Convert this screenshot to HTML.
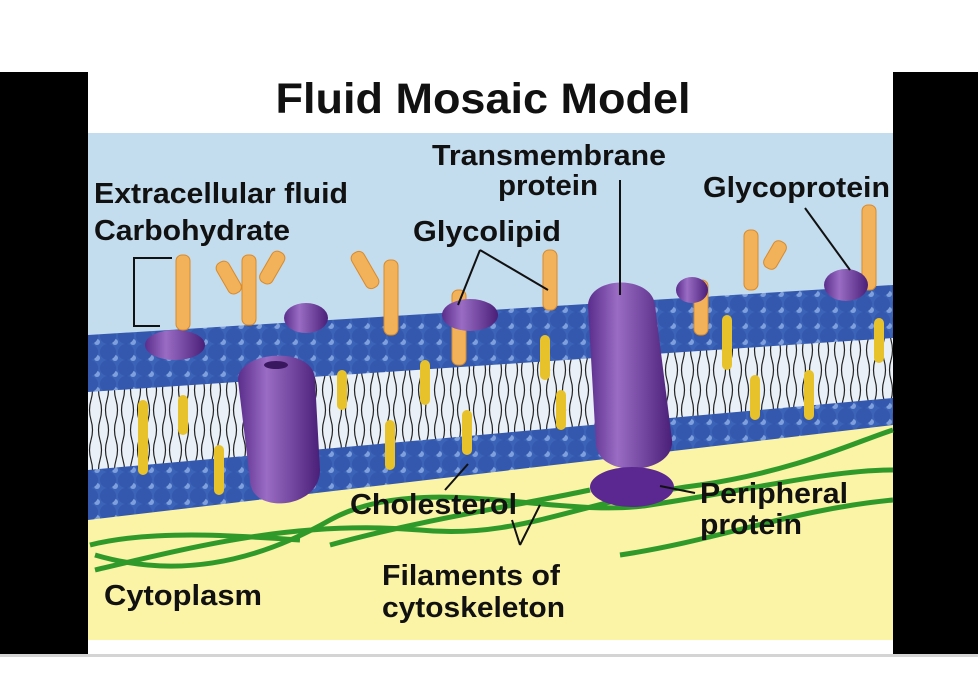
<!DOCTYPE html>
<html><head><style>
html,body{margin:0;padding:0;background:#fff;}
svg{display:block;}
text{font-family:"Liberation Sans",Arial,sans-serif;font-weight:bold;fill:#111;}
</style></head><body>
<svg width="978" height="684" viewBox="0 0 978 684" xmlns="http://www.w3.org/2000/svg">
<defs>
<pattern id="heads" width="18" height="16" patternUnits="userSpaceOnUse">
<rect width="18" height="16" fill="#1e3a8a"/>
<circle cx="9" cy="8" r="8" fill="#3b63b8"/>
<circle cx="7" cy="6" r="3" fill="#7fa0dc"/>
<circle cx="0" cy="0" r="8" fill="#3358ae"/><circle cx="18" cy="0" r="8" fill="#3358ae"/>
<circle cx="0" cy="16" r="8" fill="#3358ae"/><circle cx="18" cy="16" r="8" fill="#3358ae"/>
</pattern>
<pattern id="tails" width="16" height="40" patternUnits="userSpaceOnUse">
<rect width="16" height="40" fill="#e9f0f8"/>
<path d="M4 0 q3 10 0 20 q-3 10 0 20" stroke="#222" stroke-width="1.2" fill="none"/>
<path d="M11 0 q-3 10 0 20 q3 10 0 20" stroke="#222" stroke-width="1.2" fill="none"/>
</pattern>
<linearGradient id="purp" x1="0" x2="1">
<stop offset="0" stop-color="#5a2d8c"/><stop offset="0.35" stop-color="#9a6cc4"/><stop offset="1" stop-color="#4a1f78"/>
</linearGradient>
</defs>
<rect width="978" height="684" fill="#fff"/>
<rect x="0" y="72" width="88" height="582" fill="#000"/>
<rect x="893" y="72" width="85" height="582" fill="#000"/>
<rect x="0" y="654" width="978" height="3" fill="#d4d4d4"/>
<rect x="88" y="72" width="805" height="582" fill="#fff"/>
<rect x="88" y="133" width="805" height="507" fill="#c3dcee"/>
<polygon points="88,505 893,420 893,640 88,640" fill="#fbf3a6"/>
<polygon points="88,335 893,285 893,425 88,520" fill="url(#heads)"/>
<polygon points="88,392 893,338 893,398 88,470" fill="url(#tails)"/>
<g fill="#e8c22a">
<rect x="138" y="400" width="10" height="75" rx="5"/><rect x="178" y="395" width="10" height="40" rx="5"/>
<rect x="214" y="445" width="10" height="50" rx="5"/><rect x="337" y="370" width="10" height="40" rx="5"/>
<rect x="385" y="420" width="10" height="50" rx="5"/><rect x="420" y="360" width="10" height="45" rx="5"/>
<rect x="462" y="410" width="10" height="45" rx="5"/><rect x="540" y="335" width="10" height="45" rx="5"/>
<rect x="556" y="390" width="10" height="40" rx="5"/><rect x="722" y="315" width="10" height="55" rx="5"/>
<rect x="750" y="375" width="10" height="45" rx="5"/><rect x="804" y="370" width="10" height="50" rx="5"/>
<rect x="874" y="318" width="10" height="45" rx="5"/>
</g>
<g stroke="#2f9a2a" stroke-width="5" fill="none">
<path d="M95 570 C200 545 300 520 420 530 C520 540 580 500 700 485 C800 470 860 440 893 430"/>
<path d="M95 555 C180 580 260 560 330 520 C420 470 560 520 650 505 C750 490 830 470 893 470"/>
<path d="M330 545 C420 520 520 505 590 490"/>
<path d="M620 555 C720 540 790 510 893 500"/>
<path d="M90 545 C150 530 230 535 300 540"/>
</g>
<g fill="#f2b25a" stroke="#d98a2a" stroke-width="1">
<rect x="176" y="255" width="14" height="75" rx="6"/>
<rect x="242" y="255" width="14" height="70" rx="6"/>
<rect x="222" y="260" width="14" height="35" rx="6" transform="rotate(-30 229 278)"/>
<rect x="265" y="250" width="14" height="35" rx="6" transform="rotate(30 272 268)"/>
<rect x="384" y="260" width="14" height="75" rx="6"/>
<rect x="358" y="250" width="14" height="40" rx="6" transform="rotate(-30 365 270)"/>
<rect x="452" y="290" width="14" height="75" rx="6"/>
<rect x="543" y="250" width="14" height="60" rx="6"/>
<rect x="694" y="280" width="14" height="55" rx="6"/>
<rect x="744" y="230" width="14" height="60" rx="6"/>
<rect x="768" y="240" width="14" height="30" rx="6" transform="rotate(30 775 255)"/>
<rect x="862" y="205" width="14" height="85" rx="6"/>
</g>
<g fill="url(#purp)">
<ellipse cx="175" cy="345" rx="30" ry="15"/>
<ellipse cx="306" cy="318" rx="22" ry="15"/>
<ellipse cx="470" cy="315" rx="28" ry="16"/>
<ellipse cx="692" cy="290" rx="16" ry="13"/>
<ellipse cx="846" cy="285" rx="22" ry="16"/>
</g>
<path d="M238 380 C238 350 315 345 315 380 L320 470 C320 510 250 515 250 480 Z" fill="url(#purp)"/>
<ellipse cx="276" cy="365" rx="12" ry="4" fill="#3a1860"/>
<path d="M588 305 C590 275 652 275 655 305 L672 440 C675 475 600 480 596 445 Z" fill="url(#purp)"/>
<ellipse cx="632" cy="487" rx="42" ry="20" fill="#5a2890"/>
<g stroke="#111" stroke-width="2" fill="none">
<path d="M172 258 H134 V326 H160"/>
<line x1="620" y1="180" x2="620" y2="295"/>
<line x1="480" y1="250" x2="458" y2="305"/>
<line x1="480" y1="250" x2="548" y2="290"/>
<line x1="805" y1="208" x2="850" y2="270"/>
<line x1="695" y1="493" x2="660" y2="486"/>
<line x1="445" y1="490" x2="468" y2="464"/>
<path d="M520 545 L512 520 M520 545 L540 505"/>
</g>
<text x="483" y="113" font-size="43" text-anchor="middle" textLength="415" lengthAdjust="spacingAndGlyphs">Fluid Mosaic Model</text>
<text x="94" y="203" font-size="29" textLength="254" lengthAdjust="spacingAndGlyphs">Extracellular fluid</text>
<text x="94" y="240" font-size="29" textLength="196" lengthAdjust="spacingAndGlyphs">Carbohydrate</text>
<text x="432" y="165" font-size="29" textLength="234" lengthAdjust="spacingAndGlyphs">Transmembrane</text>
<text x="498" y="195" font-size="29" textLength="100" lengthAdjust="spacingAndGlyphs">protein</text>
<text x="413" y="241" font-size="29" textLength="148" lengthAdjust="spacingAndGlyphs">Glycolipid</text>
<text x="703" y="197" font-size="29" textLength="187" lengthAdjust="spacingAndGlyphs">Glycoprotein</text>
<text x="350" y="514" font-size="29" textLength="167" lengthAdjust="spacingAndGlyphs">Cholesterol</text>
<text x="700" y="503" font-size="29" textLength="148" lengthAdjust="spacingAndGlyphs">Peripheral</text>
<text x="700" y="534" font-size="29" textLength="102" lengthAdjust="spacingAndGlyphs">protein</text>
<text x="104" y="605" font-size="29" textLength="158" lengthAdjust="spacingAndGlyphs">Cytoplasm</text>
<text x="382" y="585" font-size="29" textLength="178" lengthAdjust="spacingAndGlyphs">Filaments of</text>
<text x="382" y="617" font-size="29" textLength="183" lengthAdjust="spacingAndGlyphs">cytoskeleton</text>
</svg>
</body></html>
